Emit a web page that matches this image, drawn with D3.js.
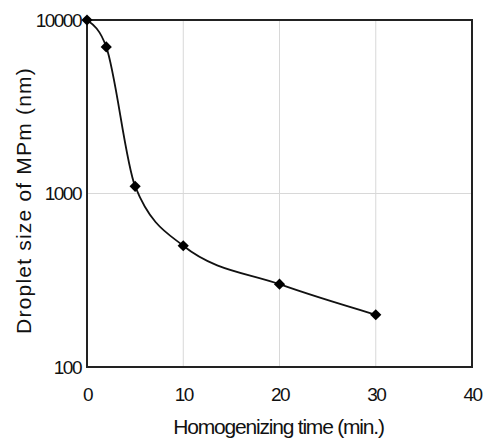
<!DOCTYPE html>
<html>
<head>
<meta charset="utf-8">
<script src="https://cdn.jsdelivr.net/npm/d3@7"></script>
<style>
  body { margin: 0; background: #fff; }
  svg { display: block; }
</style>
</head>
<body>
<svg id="drawing_region"></svg>
<script>
const times = [0, 2, 5, 10, 20, 30];
const sizes = [10000, 7000, 1100, 500, 300, 200];
const xTicks = [0, 10, 20, 30, 40];
const yTicks = [100, 1000, 10000];

const width = 483, height = 440;
const margin = { top: 20, right: 11, bottom: 73, left: 87 };
const inner_width = width - margin.left - margin.right;
const inner_height = height - margin.top - margin.bottom;

const svg = d3.select('#drawing_region')
    .attr('width', width)
    .attr('height', height);

const chart = svg.append('g')
    .attr('transform', `translate(${margin.left}, ${margin.top})`);

const xscale = d3.scaleLinear().domain([0, 40]).range([0, inner_width]);
const yscale = d3.scaleLog().domain([100, 10000]).range([inner_height, 0]);

// grid lines
chart.append('g')
    .selectAll('line')
    .data(xTicks.slice(1, -1))
    .join('line')
    .attr('x1', d => xscale(d)).attr('x2', d => xscale(d))
    .attr('y1', 0).attr('y2', inner_height)
    .attr('stroke', '#d8d8d8').attr('stroke-width', 1);

chart.append('g')
    .selectAll('line')
    .data(yTicks.slice(1, -1))
    .join('line')
    .attr('x1', 0).attr('x2', inner_width)
    .attr('y1', d => yscale(d)).attr('y2', d => yscale(d))
    .attr('stroke', '#d8d8d8').attr('stroke-width', 1);

// frame
chart.append('rect')
    .attr('x', 0).attr('y', 0)
    .attr('width', inner_width).attr('height', inner_height)
    .attr('fill', 'none')
    .attr('stroke', '#222')
    .attr('stroke-width', 2);

// axes (labels only)
const xaxis = d3.axisBottom(xscale).tickValues(xTicks).tickSize(0).tickPadding(21);
const yaxis = d3.axisLeft(yscale).tickValues(yTicks).tickSize(0).tickPadding(6)
    .tickFormat(d3.format('d'));

const xg = chart.append('g')
    .attr('transform', `translate(0, ${inner_height})`)
    .call(xaxis);
const yg = chart.append('g').call(yaxis);

[xg, yg].forEach(g => {
    g.select('.domain').remove();
    g.selectAll('text')
        .attr('fill', '#111')
        .attr('font-family', '"Liberation Sans Narrow", "Liberation Sans", sans-serif')
        .attr('font-size', '19px')
        .attr('letter-spacing', '-1.5px');
});

// curve
const data = times.map((t, i) => ({ x: t, y: sizes[i] }));
const line = d3.line()
    .x(d => xscale(d.x))
    .y(d => yscale(d.y))
    .curve(d3.curveMonotoneX);

chart.append('path')
    .datum(data)
    .attr('d', line)
    .attr('fill', 'none')
    .attr('stroke', '#111')
    .attr('stroke-width', 1.8);

chart.selectAll('.pt')
    .data(data)
    .join('path')
    .attr('class', 'pt')
    .attr('transform', d => `translate(${xscale(d.x)}, ${yscale(d.y)})`)
    .attr('d', d3.symbol().type(d3.symbolDiamond2).size(80))
    .attr('fill', '#000');

// titles
svg.append('text')
    .attr('x', margin.left + inner_width / 2 - 1)
    .attr('y', 434)
    .attr('text-anchor', 'middle')
    .attr('font-family', '"Liberation Sans Narrow", "Liberation Sans", sans-serif')
    .attr('font-size', '21px')
    .attr('letter-spacing', '-1.2px')
    .attr('fill', '#111')
    .text('Homogenizing time (min.)');

svg.append('text')
    .attr('transform', `translate(31, ${margin.top + inner_height / 2 + 7}) rotate(-90)`)
    .attr('text-anchor', 'middle')
    .attr('font-family', '"Liberation Sans", Arial, sans-serif')
    .attr('font-size', '21px')
    .attr('letter-spacing', '1.2px')
    .attr('fill', '#111')
    .text('Droplet size of MPm (nm)');
</script>
</body>
</html>
